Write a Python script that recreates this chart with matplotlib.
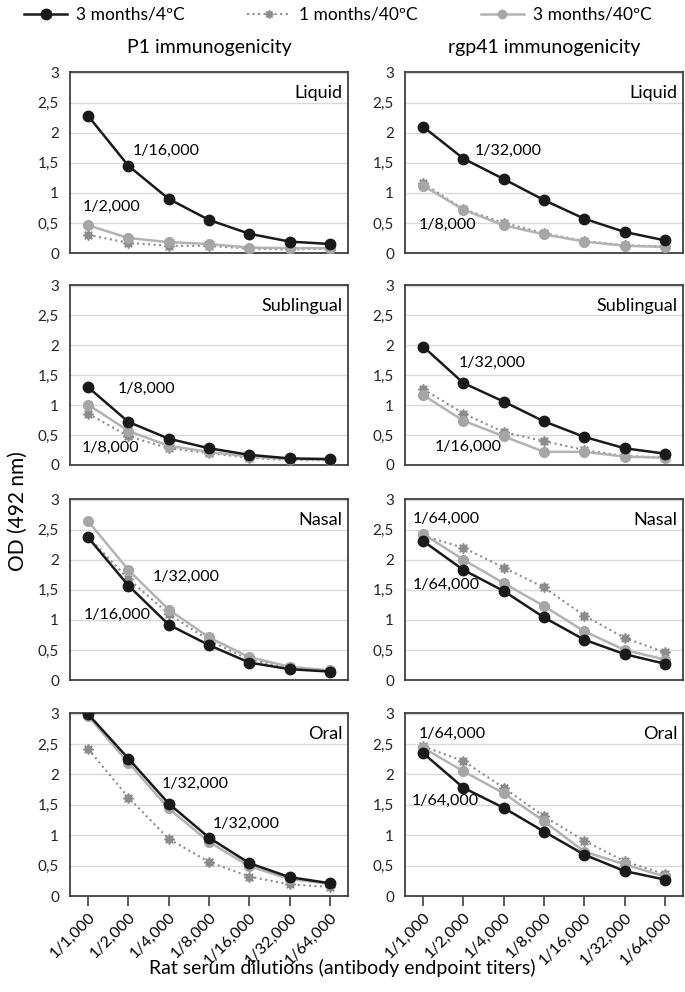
import matplotlib
matplotlib.use("Agg")
import matplotlib.pyplot as plt
from matplotlib.ticker import FuncFormatter

plt.rcParams['font.family'] = ['Lato', 'DejaVu Sans']

# data
dilutions = ["1/1,000", "1/2,000", "1/4,000", "1/8,000", "1/16,000", "1/32,000", "1/64,000"]
series_names = ["3 months/4\u00baC", "1 months/40\u00baC", "3 months/40\u00baC"]
routes = ["Liquid", "Sublingual", "Nasal", "Oral"]
col_titles = ["P1 immunogenicity", "rgp41 immunogenicity"]

# P1 column: [3m/4C, 1m/40C, 3m/40C]
p1_liquid = [[2.28, 1.45, 0.90, 0.55, 0.32, 0.19, 0.15],
             [0.30, 0.17, 0.12, 0.12, 0.07, 0.06, 0.07],
             [0.46, 0.25, 0.18, 0.15, 0.09, 0.08, 0.08]]
p1_sublingual = [[1.30, 0.72, 0.44, 0.28, 0.17, 0.11, 0.10],
                 [0.86, 0.48, 0.28, 0.20, 0.12, 0.08, 0.08],
                 [1.01, 0.57, 0.32, 0.22, 0.14, 0.10, 0.09]]
p1_nasal = [[2.37, 1.57, 0.92, 0.58, 0.29, 0.18, 0.14],
            [2.38, 1.68, 1.10, 0.66, 0.34, 0.21, 0.15],
            [2.64, 1.83, 1.17, 0.71, 0.38, 0.22, 0.16]]
p1_oral = [[2.99, 2.26, 1.52, 0.96, 0.54, 0.31, 0.21],
           [2.42, 1.62, 0.94, 0.56, 0.32, 0.19, 0.15],
           [2.96, 2.19, 1.44, 0.89, 0.49, 0.28, 0.20]]

# rgp41 column
rgp_liquid = [[2.10, 1.57, 1.23, 0.88, 0.57, 0.35, 0.21],
              [1.16, 0.73, 0.50, 0.33, 0.20, 0.13, 0.11],
              [1.12, 0.72, 0.46, 0.31, 0.19, 0.12, 0.10]]
rgp_sublingual = [[1.98, 1.37, 1.06, 0.73, 0.47, 0.28, 0.19],
                  [1.27, 0.86, 0.55, 0.40, 0.25, 0.15, 0.13],
                  [1.17, 0.74, 0.48, 0.22, 0.22, 0.14, 0.12]]
rgp_nasal = [[2.31, 1.83, 1.48, 1.04, 0.67, 0.43, 0.27],
             [2.40, 2.20, 1.87, 1.54, 1.07, 0.70, 0.46],
             [2.43, 2.00, 1.61, 1.23, 0.81, 0.50, 0.34]]
rgp_oral = [[2.35, 1.78, 1.45, 1.06, 0.68, 0.41, 0.27],
            [2.46, 2.22, 1.78, 1.31, 0.91, 0.57, 0.36],
            [2.44, 2.05, 1.69, 1.23, 0.73, 0.52, 0.32]]

p1_data = [p1_liquid, p1_sublingual, p1_nasal, p1_oral]
rgp_data = [rgp_liquid, rgp_sublingual, rgp_nasal, rgp_oral]

# annotations per panel: (text, x, y)
p1_notes = [[("1/16,000", 1.1, 1.69), ("1/2,000", -0.13, 0.77)],
            [("1/8,000", 0.74, 1.28), ("1/8,000", -0.15, 0.28)],
            [("1/32,000", 1.6, 1.72), ("1/16,000", -0.1, 1.08)],
            [("1/32,000", 1.83, 1.85), ("1/32,000", 3.1, 1.18)]]
rgp_notes = [[("1/32,000", 1.29, 1.69), ("1/8,000", -0.1, 0.46)],
             [("1/32,000", 0.89, 1.71), ("1/16,000", 0.29, 0.31)],
             [("1/64,000", -0.25, 2.68), ("1/64,000", -0.25, 1.58)],
             [("1/64,000", -0.1, 2.66), ("1/64,000", -0.28, 1.57)]]

styles = [dict(color="#1a1a1a", ls="-", lw=1.8, marker="o", ms=7.5, mfc="#1a1a1a", mec="#1a1a1a", zorder=4),
          dict(color="#8c8c8c", ls=":", lw=1.5, marker=(8, 1, 0), ms=7.5, mfc="#8c8c8c", mec="#8c8c8c", zorder=3),
          dict(color="#b3b3b3", ls="-", lw=1.8, marker="o", ms=7, mfc="#a6a6a6", mec="#a6a6a6", zorder=3)]

W, H = 685, 992
fig = plt.figure(figsize=(W / 100, H / 100), dpi=100)

col_left = [70, 405]
ax_w = 278
row_top = [72, 285, 499, 713]
row_bot = [253, 465, 680, 896]

comma = FuncFormatter(lambda v, p: ("%g" % v).replace(".", ","))
xs = list(range(len(dilutions)))

for c, (data, notes) in enumerate([(p1_data, p1_notes), (rgp_data, rgp_notes)]):
    for r in range(4):
        ax = fig.add_axes([col_left[c] / W, 1 - row_bot[r] / H, ax_w / W, (row_bot[r] - row_top[r]) / H])
        for s in range(3):
            ax.plot(xs, data[r][s], **styles[s])
        ax.set_xlim(-0.45, 6.45)
        ax.set_ylim(0, 3.01)
        ax.set_yticks([0, 0.5, 1, 1.5, 2, 2.5, 3])
        ax.yaxis.set_major_formatter(comma)
        ax.grid(axis="y", color="#d9d9d9", lw=1)
        ax.set_axisbelow(True)
        for sp in ax.spines.values():
            sp.set_color("#404040")
            sp.set_linewidth(1.3)
        ax.tick_params(axis="y", length=0, labelsize=11, pad=8, colors="#262626")
        ax.set_xticks(xs)
        if r == 3:
            ax.set_xticklabels(dilutions, rotation=45, ha="right", rotation_mode="anchor", fontsize=11.5)
            ax.tick_params(axis="x", length=7, color="#404040", width=1.2, pad=3)
        else:
            ax.set_xticklabels([])
            ax.tick_params(axis="x", length=0)
        ax.text(0.98, 0.93, routes[r], transform=ax.transAxes, ha="right", va="top", fontsize=13)
        for txt, tx, ty in notes[r]:
            ax.text(tx, ty, txt, ha="left", va="center", fontsize=11.5)
        if r == 0:
            ax.set_title(col_titles[c], fontsize=14, pad=14)

handles = [plt.Line2D([], [], **styles[s]) for s in range(3)]
handles[1].set_markersize(6)
handles[2].set_markersize(6)
fig.legend(handles, series_names, loc="upper center", bbox_to_anchor=(0.493, 1.009), ncol=3,
           frameon=False, fontsize=12.5, handlelength=2.5, columnspacing=3.6, handletextpad=0.5)

fig.text(0.012, 0.485, "OD (492 nm)", rotation=90, va="center", ha="left", fontsize=15)
fig.text(0.5, 1 - 968 / H, "Rat serum dilutions (antibody endpoint titers)", ha="center", va="center", fontsize=14)

fig.savefig("out.png", dpi=100)
